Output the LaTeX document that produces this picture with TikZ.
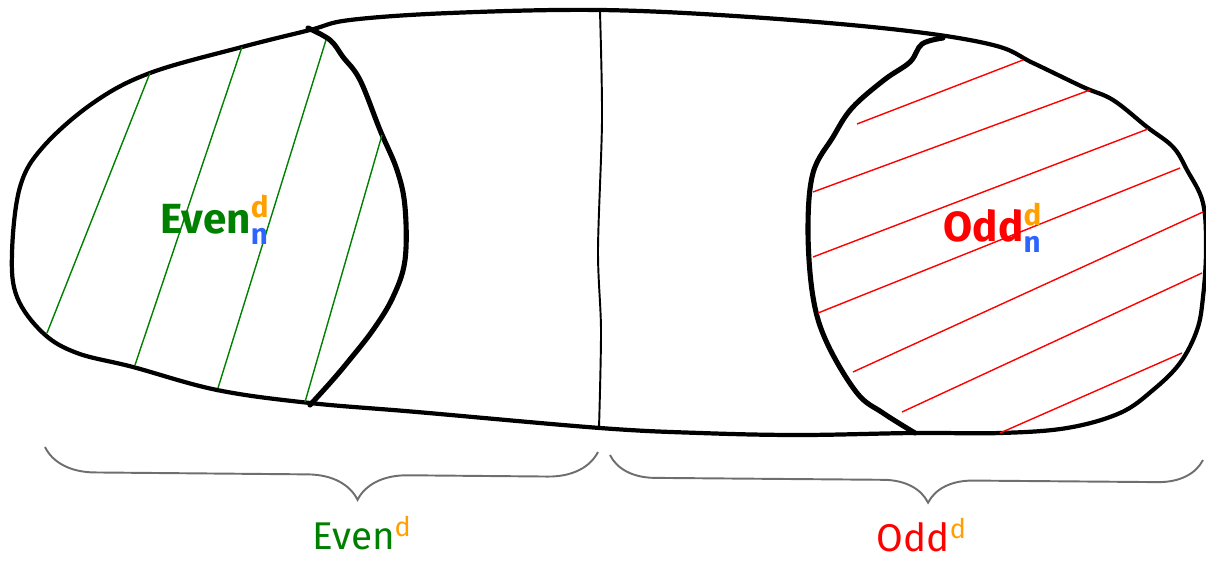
\documentclass[tikz,border=0pt]{standalone}
\usepackage{fontspec}
\usepackage{amsmath}
\setmainfont{Fira Sans}
\usetikzlibrary{decorations.pathreplacing}
\definecolor{evengreen}{RGB}{0,128,0}
\definecolor{oddred}{RGB}{255,0,0}
\definecolor{dorange}{RGB}{255,160,0}
\definecolor{nblue}{RGB}{45,100,255}
\definecolor{bracegray}{RGB}{110,110,110}
\begin{document}
\begin{tikzpicture}[x=0.02cm, y=-0.02cm]
    % --- 样式设置 ---
    \tikzstyle{outline}=[line width=2.4pt, black, line join=round]
    \tikzstyle{cutline}=[line width=2.9pt, black, line join=round, line cap=round]
    \tikzstyle{evenhatch}=[line width=0.8pt, evengreen]
    \tikzstyle{oddhatch}=[line width=0.8pt, oddred]
    \tikzstyle{brc}=[line width=1.1pt, bracegray, decorate]
    \useasboundingbox (0,0) rectangle (1206,561);

    % 1. 外边界
    \draw[outline] plot[smooth cycle, tension=0.6] coordinates {
        (12,253) (20,187) (43,147) (93,103) (150,73) (242,47) (310,30)
        (350,20) (450,13) (600,10) (750,17) (900,30) (993,45) (1033,63)
        (1083,87) (1113,100) (1147,127) (1173,147) (1187,170) (1203,203)
        (1206,250) (1203,297) (1197,330) (1180,363) (1153,390) (1120,413)
        (1067,428) (1000,433) (913,433) (800,435) (700,433) (600,428)
        (417,412) (310,403) (217,390) (133,367) (77,353) (43,333) (17,297)};

    % 2. 中间的分割线
    \draw[line width=1.1pt] plot[smooth] coordinates {
        (600,12) (602,120) (598,250) (601,330) (599,428)};

    % 3. 左右两块区域的边界
    \draw[cutline] plot[smooth, tension=0.6] coordinates {
        (308,28) (330,40) (343,57) (360,80) (380,130) (397,170) (405,207)
        (405,260) (393,297) (373,330) (347,363) (330,383) (310,405)};
    \draw[cutline] plot[smooth, tension=0.6] coordinates {
        (943,38) (922,44) (910,62) (884,80) (852,108) (833,137) (813,173)
        (808,230) (813,297) (827,343) (857,393) (883,413) (915,433)};

    % 4. 阴影线
    \draw[evenhatch] (150,73) -- (47,333);
    \draw[evenhatch] (242,47) -- (135,365);
    \draw[evenhatch] (326,40) -- (218,388);
    \draw[evenhatch] (382,135) -- (305,402);

    \draw[oddhatch] (857,124) -- (1023,60);
    \draw[oddhatch] (813,192) -- (1090,90);
    \draw[oddhatch] (813,257) -- (1148,129);
    \draw[oddhatch] (818,313) -- (1180,168);
    \draw[oddhatch] (853,372) -- (1203,212);
    \draw[oddhatch] (902,412) -- (1202,273);
    \draw[oddhatch] (1000,433) -- (1182,353);

    % 5. 文字标注
    \node[evengreen, font=\fontsize{24}{28}\selectfont\bfseries] (evenIn) at (215,220)
        {Even$^{\textcolor{dorange}{\text{d}}}_{\textcolor{nblue}{\text{n}}}$};
    \node[oddred, font=\fontsize{24}{28}\selectfont\bfseries] (oddIn) at (993,228)
        {Odd$^{\textcolor{dorange}{\text{d}}}_{\textcolor{nblue}{\text{n}}}$};

    % 6. 括号
    \coordinate (leftA) at (45,447);
    \coordinate (leftB) at (598,452);
    \coordinate (rightA) at (610,455);
    \coordinate (rightB) at (1203,460);
    \draw[brc, decoration={brace, mirror, amplitude=1cm, aspect=0.566}] (leftA) -- (leftB);
    \draw[brc, decoration={brace, mirror, amplitude=0.9cm, aspect=0.537}] (rightA) -- (rightB);

    \node[evengreen, inner sep=0pt, font=\fontsize{22}{26}\selectfont] (evenOut) at (362,533)
        {Even$^{\textcolor{dorange}{\text{d}}}$};
    \node[oddred, inner sep=0pt, font=\fontsize{22}{26}\selectfont] (oddOut) at (922,535)
        {Odd$^{\textcolor{dorange}{\text{d}}}$};
\end{tikzpicture}
\end{document}
